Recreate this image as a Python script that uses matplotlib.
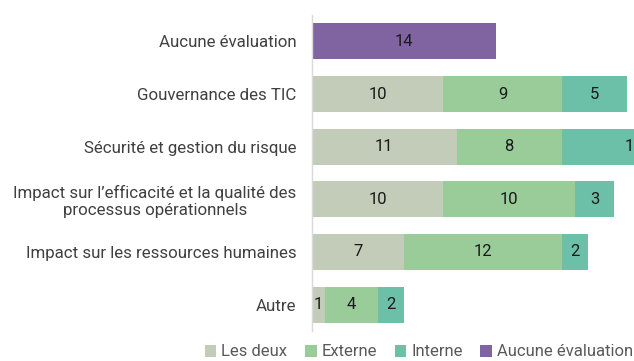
import matplotlib
matplotlib.use("Agg")
import matplotlib.pyplot as plt
from matplotlib.patches import Patch

categories = [
    "Aucune évaluation",
    "Gouvernance des TIC",
    "Sécurité et gestion du risque",
    "Impact sur l\u2019efficacité et la qualité des\nprocessus opérationnels",
    "Impact sur les ressources humaines",
    "Autre",
]
series_names = ["Les deux", "Externe", "Interne", "Aucune évaluation"]
les_deux = [0, 10, 11, 10, 7, 1]
externe = [0, 9, 8, 10, 12, 4]
interne = [0, 5, 11, 3, 2, 2]
aucune = [14, 0, 0, 0, 0, 0]

colors = ["#c2ccb9", "#99cc99", "#6cc0a7", "#8064a2"]

plt.rcParams["font.family"] = ["Roboto", "DejaVu Sans"]

W, H = 634, 361
fig = plt.figure(figsize=(W / 100, H / 100), dpi=100)
px_per_unit = 13.14
xmax = 31
ax_left, ax_top, ax_bottom = 312, 15, 331
ax = fig.add_axes([ax_left / W, 1 - ax_bottom / H,
                   xmax * px_per_unit / W, (ax_bottom - ax_top) / H])

y = list(range(len(categories)))
left = [0] * len(categories)
for name, vals, col in zip(series_names, [les_deux, externe, interne, aucune], colors):
    bars = ax.barh(y, vals, left=left, height=0.68, color=col, label=name)
    for b, v in zip(bars, vals):
        if v > 0:
            ax.text(b.get_x() + b.get_width() / 2, b.get_y() + b.get_height() / 2,
                    str(v), ha="center", va="center", fontsize=12, color="#1a1a1a")
    left = [l + v for l, v in zip(left, vals)]

ax.set_xlim(0, xmax)
ax.set_ylim(len(categories) - 0.5, -0.5)
ax.set_yticks(y)
ax.set_yticklabels(categories, fontsize=12.2, color="#404040", multialignment="center",
                   linespacing=1.1)
ax.tick_params(axis="y", length=0, pad=11)
ax.set_xticks([])
for s in ["top", "right", "bottom"]:
    ax.spines[s].set_visible(False)
ax.spines["left"].set_color("#d9d9d9")
ax.spines["left"].set_linewidth(1)

handles = [Patch(facecolor=c, label=n) for n, c in zip(series_names, colors)]
fig.legend(handles=handles, loc="center right", bbox_to_anchor=(633 / W, 1 - 352 / H),
           ncol=4, frameon=False, fontsize=12, labelcolor="#595959", borderpad=0,
           borderaxespad=0, handlelength=0.7, handleheight=0.7, handletextpad=0.3,
           columnspacing=1.05)

fig.savefig("out.png", dpi=100)
